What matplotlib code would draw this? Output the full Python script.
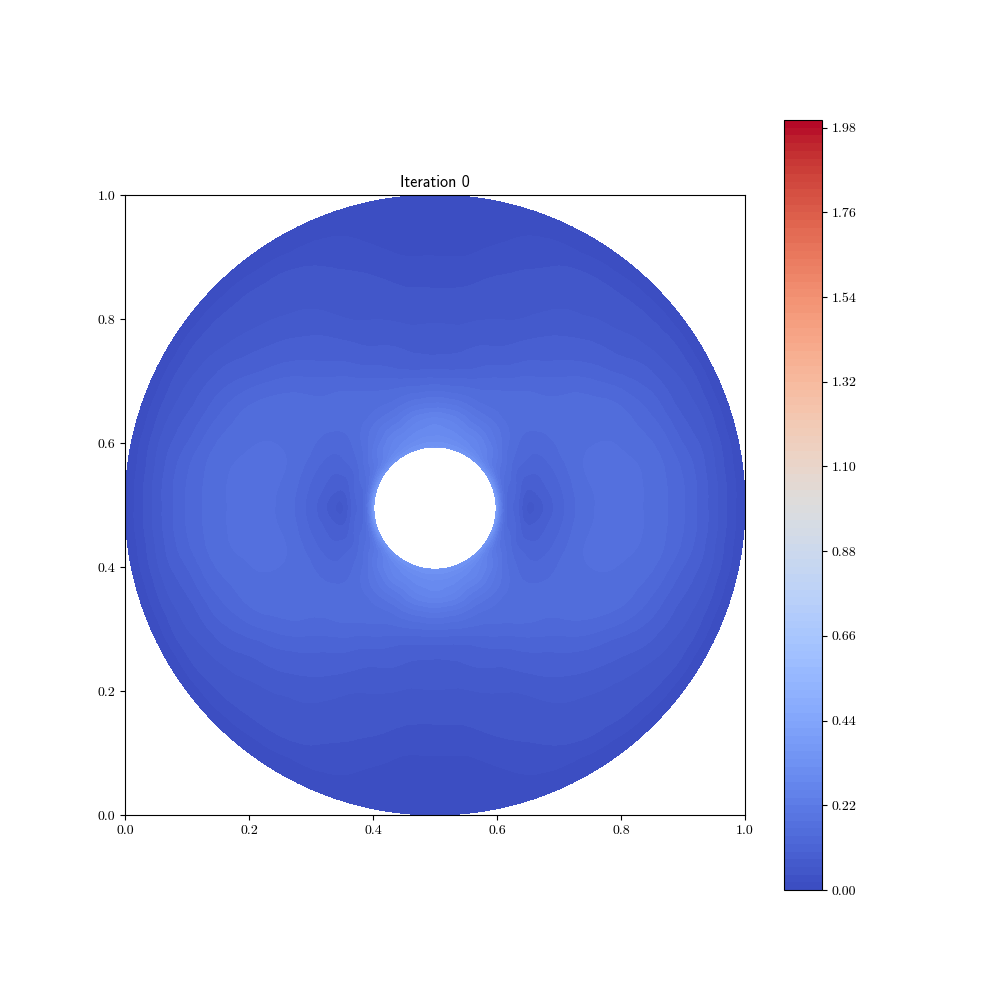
import numpy as np
import matplotlib
matplotlib.use("Agg")
import matplotlib.pyplot as plt
import matplotlib.tri as mtri

plt.rcParams['font.family'] = ['cmr10', 'DejaVu Serif']
plt.rcParams['axes.formatter.use_mathtext'] = True
plt.rcParams['axes.unicode_minus'] = False

title_text = "Iteration 0"
axis_ticks = [0.0, 0.2, 0.4, 0.6, 0.8, 1.0]
cbar_ticks = [0.00, 0.22, 0.44, 0.66, 0.88, 1.10, 1.32, 1.54, 1.76, 1.98]
levels = [round(i * 0.02, 2) for i in range(101)]

# radial stations (distance from the centre) and angular stations, degrees
radii = [.0985, .11, .125, .14, .155, .175, .2, .23, .26, .295, .335, .375, .41, .44, .47, .485, .5]
angles = [0, 7.5, 15, 22.5, 30, 37.5, 45, 52.5, 60, 67.5, 75, 82.5, 90]

# field values, one row per angle in the first quadrant
values = [
    [.38, .175, .12, .08, .055, .08, .11, .143, .161, .175, .16, .14, .112, .08, .04, .02, .006],
    [.38, .18, .125, .09, .07, .09, .113, .145, .163, .177, .161, .14, .112, .08, .04, .02, .006],
    [.37, .19, .135, .108, .09, .098, .118, .147, .165, .168, .155, .135, .10, .075, .04, .02, .006],
    [.36, .205, .15, .122, .108, .108, .124, .147, .157, .158, .148, .123, .09, .066, .038, .019, .006],
    [.35, .225, .17, .145, .13, .122, .13, .145, .151, .15, .14, .109, .083, .06, .037, .018, .005],
    [.34, .24, .20, .17, .15, .137, .139, .146, .147, .142, .117, .088, .07, .052, .034, .017, .005],
    [.34, .26, .23, .20, .175, .155, .148, .147, .137, .12, .097, .077, .058, .047, .03, .015, .005],
    [.34, .28, .25, .22, .195, .165, .15, .143, .123, .10, .084, .066, .053, .045, .025, .012, .005],
    [.34, .29, .265, .235, .205, .17, .15, .128, .104, .087, .07, .057, .05, .041, .02, .01, .005],
    [.34, .30, .27, .24, .21, .172, .143, .115, .09, .073, .056, .048, .041, .03, .018, .01, .004],
    [.34, .305, .28, .255, .225, .18, .14, .10, .083, .067, .053, .043, .03, .02, .013, .008, .004],
    [.34, .31, .285, .265, .232, .183, .135, .092, .076, .06, .047, .032, .019, .013, .008, .006, .004],
    [.34, .31, .29, .27, .235, .185, .135, .09, .075, .06, .046, .03, .018, .012, .008, .006, .004],
]

fig = plt.figure(figsize=(10, 10), dpi=100)
ax = fig.add_axes([0.125, 0.185, 0.62, 0.62])
cax = fig.add_axes([0.784, 0.11, 0.038, 0.77])

# mirror the quadrant table round the whole annulus
r = np.array(radii)
a = np.array(angles)
v = np.array(values)
theta = np.concatenate([a, 180 - a[-2::-1], 180 + a[1:], 360 - a[-2:0:-1]])
field = np.vstack([v, v[-2::-1], v[1:], v[-2:0:-1]])
nt, nr = field.shape

T, R = np.meshgrid(np.radians(theta), r, indexing='ij')
X = 0.5 + R * np.cos(T)
Y = 0.5 + R * np.sin(T)

idx = np.arange(nt * nr).reshape(nt, nr)
nxt = np.roll(idx, -1, axis=0)
tris = np.vstack([
    np.c_[idx[:, :-1].ravel(), idx[:, 1:].ravel(), nxt[:, 1:].ravel()],
    np.c_[idx[:, :-1].ravel(), nxt[:, 1:].ravel(), nxt[:, :-1].ravel()],
])
tri = mtri.Triangulation(X.ravel(), Y.ravel(), tris)
fine_tri, fine_z = mtri.UniformTriRefiner(tri).refine_field(field.ravel(), subdiv=2)
fine_z = np.clip(fine_z, 0.001, None)

# bend the refined rings from polygons to true circles
dx, dy = fine_tri.x - 0.5, fine_tri.y - 0.5
phi = np.arctan2(dy, dx)
step = np.radians(7.5)
offset = np.mod(phi, step) - step / 2
dist = np.hypot(dx, dy) * np.cos(offset) / np.cos(step / 2)
# the hole sits slightly below the centre of the outer circle
shift = -0.005 * (0.5 - dist) / (0.5 - r[0])
smooth = mtri.Triangulation(0.5 + dist * np.cos(phi), 0.5 + shift + dist * np.sin(phi),
                            fine_tri.triangles)

cs = ax.tricontourf(smooth, fine_z, levels=levels, cmap='coolwarm')
ax.set_xlim(0, 1)
ax.set_ylim(0, 1)
ax.set_aspect('equal')
ax.set_xticks(axis_ticks)
ax.set_yticks(axis_ticks)
ax.set_xticklabels([f"{t:.1f}" for t in axis_ticks])
ax.set_yticklabels([f"{t:.1f}" for t in axis_ticks])
ax.set_title(title_text, fontfamily='cmss10', fontsize=11.6)

cb = fig.colorbar(cs, cax=cax)
cb.set_ticks(cbar_ticks)
cb.set_ticklabels([f"{t:.2f}" for t in cbar_ticks])

fig.savefig("out.png", dpi=100)
